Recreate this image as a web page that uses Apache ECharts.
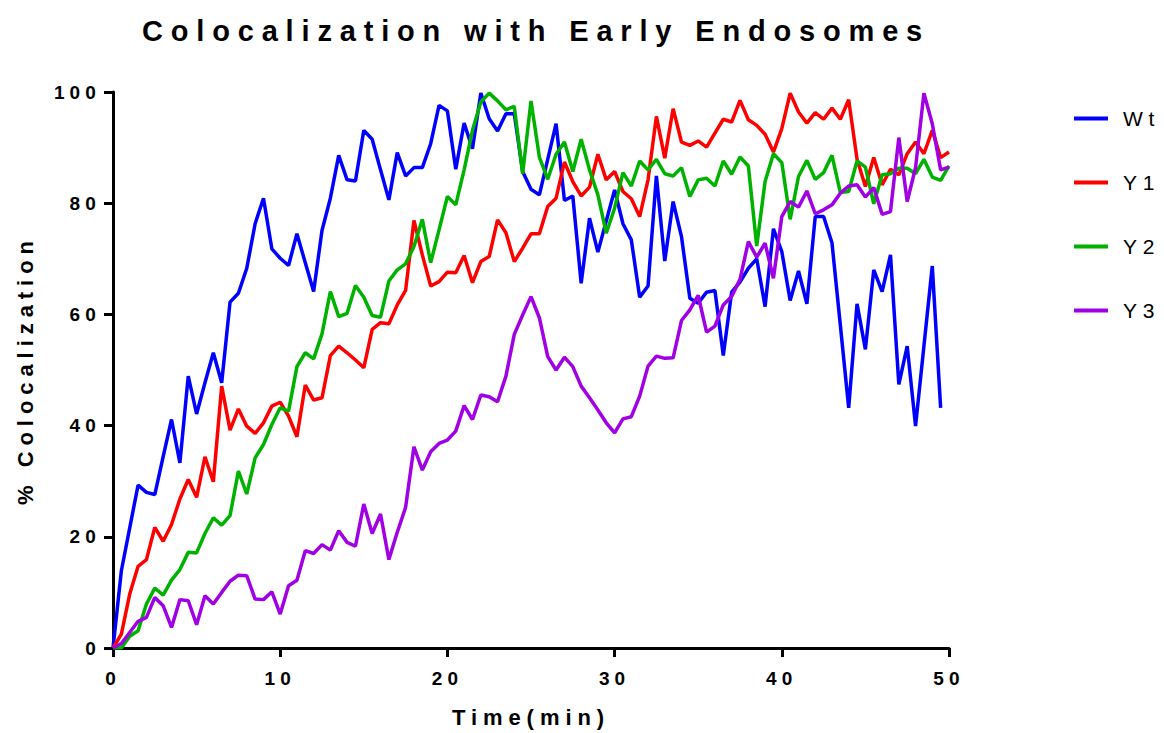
<!DOCTYPE html>
<html>
<head>
<meta charset="utf-8">
<title>Colocalization with Early Endosomes</title>
<script src="https://cdn.jsdelivr.net/npm/echarts@6/dist/echarts.min.js"></script>
<style>
  html, body { margin: 0; padding: 0; background: #ffffff; }
  #chart { width: 1164px; height: 733px; }
  /* spaced-out lettering like the original export */
  #chart svg text { letter-spacing: 0.27em; }
</style>
</head>
<body>
<div id="chart"></div>
<script>
// time points (min)
var times = [
  0, 0.5, 1, 1.5, 2, 2.5, 3, 3.5, 4, 4.5, 5, 5.5, 6, 6.5, 7, 7.5, 8, 8.5, 9, 9.5,
  10, 10.5, 11, 11.5, 12, 12.5, 13, 13.5, 14, 14.5, 15, 15.5, 16, 16.5, 17, 17.5, 18, 18.5, 19, 19.5,
  20, 20.5, 21, 21.5, 22, 22.5, 23, 23.5, 24, 24.5, 25, 25.5, 26, 26.5, 27, 27.5, 28, 28.5, 29, 29.5,
  30, 30.5, 31, 31.5, 32, 32.5, 33, 33.5, 34, 34.5, 35, 35.5, 36, 36.5, 37, 37.5, 38, 38.5, 39, 39.5,
  40, 40.5, 41, 41.5, 42, 42.5, 43, 43.5, 44, 44.5, 45, 45.5, 46, 46.5, 47, 47.5, 48, 48.5, 49, 49.5,
  50
];

// % colocalization per series
var wt = [
  0, 13.9, 21.6, 29.3, 28.0, 27.6, 34.4, 41.1, 33.3, 48.9, 42.1, 47.7, 53.1, 47.7, 62.2, 63.8, 68.3, 76.3, 80.9, 71.8,
  70.1, 68.8, 74.5, 69.3, 64.1, 75.1, 80.9, 88.6, 84.2, 84.0, 93.1, 91.5, 86.0, 80.6, 89.1, 84.9, 86.4, 86.4, 90.7, 97.6,
  96.6, 86.1, 94.4, 89.8, 99.8, 95.2, 93.0, 96.1, 96.1, 85.7, 82.5, 81.5, 87.9, 94.3, 80.5, 81.3, 65.6, 77.3, 71.2, 76.8,
  82.4, 76.3, 73.4, 63.1, 65.1, 84.9, 69.6, 80.3, 74.0, 62.9, 62.0, 64.0, 64.3, 52.6, 64.0, 65.8, 68.3, 70.0, 61.4, 75.4,
  71.3, 62.5, 67.8, 61.9, 77.6, 77.6, 72.9, 58.1, 43.2, 61.9, 53.7, 68.0, 64.1, 70.7, 47.4, 54.3, 39.9, 54.3, 68.7, 43.2
];
var y1 = [
  0, 2.5, 9.7, 14.7, 15.9, 21.7, 19.2, 22.2, 26.8, 30.3, 27.1, 34.4, 29.9, 47.1, 39.2, 43.0, 39.9, 38.6, 40.5, 43.5,
  44.2, 41.7, 38.0, 47.3, 44.6, 45.0, 52.6, 54.3, 53.1, 51.8, 50.4, 57.3, 58.5, 58.3, 61.7, 64.3, 76.9, 70.7, 65.1, 65.9,
  67.6, 67.5, 70.6, 65.7, 69.5, 70.4, 77.0, 74.7, 69.5, 71.9, 74.5, 74.5, 79.4, 80.9, 87.4, 83.9, 81.3, 82.9, 88.8, 84.2,
  85.7, 82.1, 80.8, 77.6, 84.2, 95.6, 88.1, 97.0, 91.0, 90.4, 91.2, 90.1, 92.6, 95.1, 94.6, 98.5, 95.0, 94.0, 92.4, 89.2,
  93.4, 99.8, 96.4, 94.4, 96.3, 95.1, 97.1, 95.1, 98.6, 87.9, 83.0, 88.2, 83.3, 86.1, 85.1, 88.9, 91.0, 88.9, 93.1, 88.2,
  89.2
];
var y2 = [
  0, 0, 2.1, 3.1, 7.9, 10.8, 9.5, 12.2, 14.1, 17.2, 17.1, 20.6, 23.4, 22.1, 23.8, 31.8, 27.7, 34.2, 36.6, 40.2,
  43.2, 42.6, 50.6, 53.1, 52.0, 56.5, 64.1, 59.6, 60.2, 65.2, 63.1, 59.8, 59.5, 66.0, 68.0, 69.1, 72.2, 77.1, 69.3, 75.2,
  81.2, 79.7, 86.0, 93.1, 98.2, 99.8, 98.4, 96.8, 97.4, 85.3, 98.4, 88.3, 84.3, 88.8, 91.0, 85.7, 91.5, 86.0, 81.5, 74.6,
  79.1, 85.5, 83.1, 87.6, 86.0, 87.9, 85.3, 84.9, 86.4, 81.2, 84.2, 84.5, 83.1, 87.6, 85.2, 88.3, 86.7, 72.3, 83.9, 88.9,
  87.3, 77.1, 84.8, 87.7, 84.3, 85.5, 88.6, 81.9, 82.1, 87.6, 86.5, 79.9, 85.1, 85.3, 86.3, 86.3, 85.3, 87.9, 84.7, 84.1,
  86.7
];
var y3 = [
  0, 0.8, 2.8, 4.8, 5.5, 9.1, 7.6, 3.7, 8.7, 8.5, 4.2, 9.4, 7.9, 10.0, 12.0, 13.1, 13.0, 8.8, 8.7, 10.1,
  6.1, 11.2, 12.2, 17.5, 17.0, 18.6, 17.6, 21.1, 19.0, 18.3, 25.9, 20.6, 24.1, 15.9, 20.8, 25.3, 36.2, 32.0, 35.3, 36.8,
  37.4, 39.0, 43.6, 41.1, 45.5, 45.2, 44.3, 48.9, 56.4, 59.9, 63.2, 59.4, 52.4, 50.0, 52.3, 50.6, 47.1, 45.0, 42.8, 40.5,
  38.7, 41.2, 41.6, 45.3, 50.7, 52.5, 52.1, 52.2, 58.9, 60.8, 63.4, 56.8, 57.9, 61.7, 63.2, 66.3, 73.1, 70.3, 72.8, 66.5,
  77.6, 80.3, 79.3, 82.2, 78.1, 78.8, 79.7, 81.8, 83.1, 83.3, 81.1, 82.8, 78.0, 78.5, 91.8, 80.3, 86.4, 99.8, 94.3, 86.0,
  86.5
];

var seriesNames = ['Wt', 'Y1', 'Y2', 'Y3'];
var seriesValues = [wt, y1, y2, y3];
var colors = ['#0000ff', '#ff0000', '#00b200', '#a100e4'];

function pairs(values) {
  return values.map(function (v, i) { return [times[i], v]; });
}

var font = 'Liberation Sans, Arial, Helvetica, sans-serif';
var myChart = echarts.init(document.getElementById('chart'), null, { renderer: 'svg' });

var option = {
  backgroundColor: '#ffffff',
  animation: false,
  color: colors,
  title: {
    text: 'Colocalization with Early Endosomes',
    left: 531,
    top: 11,
    textAlign: 'center',
    textStyle: { fontFamily: font, fontSize: 29, fontWeight: 'bold', color: '#000' }
  },
  legend: {
    orient: 'vertical',
    left: 1069,
    top: 103,
    itemWidth: 34,
    itemHeight: 4,
    itemGap: 43,
    icon: 'rect',
    data: seriesNames,
    textStyle: { fontFamily: font, fontSize: 21, color: '#000', padding: [0, 0, 0, 10] }
  },
  grid: { left: 113, right: 215, top: 92, bottom: 84 },
  xAxis: {
    type: 'value',
    min: 0,
    max: 50,
    interval: 10,
    name: 'Time(min)',
    nameLocation: 'middle',
    nameGap: 58,
    nameTextStyle: { fontFamily: font, fontSize: 22, fontWeight: 'bold', color: '#000' },
    splitLine: { show: false },
    axisLine: { lineStyle: { color: '#000', width: 3 } },
    axisTick: { length: 9, lineStyle: { color: '#000', width: 3 } },
    axisLabel: { fontFamily: font, fontSize: 19, fontWeight: 'bold', color: '#000', margin: 21 }
  },
  yAxis: {
    type: 'value',
    min: 0,
    max: 100,
    interval: 20,
    name: '% Colocalization',
    nameLocation: 'middle',
    nameGap: 77,
    nameTextStyle: { fontFamily: font, fontSize: 22, fontWeight: 'bold', color: '#000' },
    splitLine: { show: false },
    axisLine: { show: true, lineStyle: { color: '#000', width: 3 } },
    axisTick: { show: true, length: 9, lineStyle: { color: '#000', width: 3 } },
    axisLabel: { fontFamily: font, fontSize: 19, fontWeight: 'bold', color: '#000', margin: 12 }
  },
  series: seriesNames.map(function (name, k) {
    return {
      name: name,
      type: 'line',
      data: pairs(seriesValues[k]),
      symbol: 'none',
      lineStyle: { width: 3.5, color: colors[k] },
      itemStyle: { color: colors[k] }
    };
  })
};

myChart.setOption(option, true);
</script>
</body>
</html>
